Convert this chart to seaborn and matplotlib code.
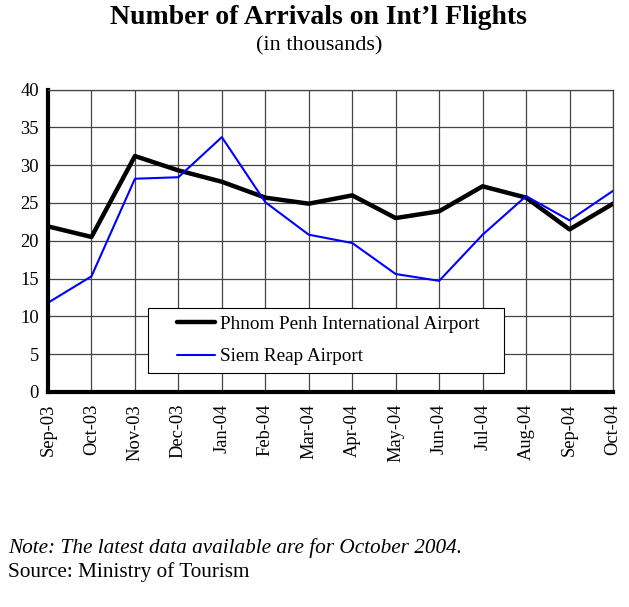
import matplotlib
matplotlib.use("Agg")
import matplotlib.pyplot as plt
from matplotlib.patches import Rectangle
import seaborn as sns
import pandas as pd

months = ["Sep-03", "Oct-03", "Nov-03", "Dec-03", "Jan-04", "Feb-04", "Mar-04",
          "Apr-04", "May-04", "Jun-04", "Jul-04", "Aug-04", "Sep-04", "Oct-04"]
phnom_penh = [21.9, 20.5, 31.2, 29.3, 27.8, 25.7, 24.9, 26.0, 23.0, 23.9, 27.2, 25.7, 21.5, 24.9]
siem_reap = [11.8, 15.3, 28.2, 28.4, 33.7, 25.1, 20.8, 19.7, 15.6, 14.7, 20.8, 25.9, 22.7, 26.6]
series_names = ["Phnom Penh International Airport", "Siem Reap Airport"]
y_ticks = [0, 5, 10, 15, 20, 25, 30, 35, 40]

sns.set_style("white")
plt.rcParams["font.family"] = ["Liberation Serif", "DejaVu Serif"]
plt.rcParams["text.color"] = "black"
plt.rcParams["xtick.color"] = "black"
plt.rcParams["ytick.color"] = "black"

df = pd.DataFrame({
    "month": months * 2,
    "idx": list(range(len(months))) * 2,
    "value": phnom_penh + siem_reap,
    "series": [series_names[0]] * len(months) + [series_names[1]] * len(months),
})

W, H = 629, 607
fig = plt.figure(figsize=(W / 100, H / 100), dpi=100)
ax = fig.add_axes([48 / W, 1 - 392 / H, (613 - 48) / W, (392 - 89.5) / H])

sns.lineplot(data=df[df.series == series_names[0]], x="idx", y="value",
             color="black", linewidth=3.2, ax=ax, label=series_names[0])
sns.lineplot(data=df[df.series == series_names[1]], x="idx", y="value",
             color="#0000FF", linewidth=1.5, ax=ax, label=series_names[1])

ax.set_xlim(0, len(months) - 1)
ax.set_ylim(0, 40)
ax.set_xticks(range(len(months)))
ax.set_xticklabels(months, rotation=90, fontsize=13.3)
ax.set_yticks(y_ticks)
ax.set_yticklabels([str(v) for v in y_ticks], fontsize=13.3)
ax.set_xlabel("")
ax.set_ylabel("")

ax.grid(True, color="#444444", linewidth=0.9)
ax.set_axisbelow(True)
for s in ["top", "right"]:
    ax.spines[s].set_color("#444444")
    ax.spines[s].set_linewidth(0.9)
for s in ["left", "bottom"]:
    ax.spines[s].set_color("black")
    ax.spines[s].set_linewidth(3)
ax.tick_params(axis="both", direction="inout", length=7, width=2, color="black",
               labelcolor="black", pad=3)
ax.tick_params(axis="x", pad=5)

# legend frame (white box) and legend
ax.add_patch(Rectangle((148 / W, 1 - 373 / H), (504 - 148) / W, (373 - 308) / H,
                       transform=fig.transFigure, facecolor="white", edgecolor="black",
                       linewidth=0.8, zorder=4, clip_on=False))
leg = ax.legend(loc="center left", bbox_to_anchor=((177 - 48) / 565, (392 - 340.5) / 302.5),
                fontsize=13.8, frameon=False, handlelength=2.0, borderpad=0,
                labelspacing=0.78, handletextpad=0.25, borderaxespad=0)
leg.set_zorder(5)

fig.text(0.507, 1 - 18 / H, "Number of Arrivals on Int’l Flights", ha="center", va="center",
         fontsize=20, fontweight="bold")
fig.text(0.507, 1 - 46 / H, "(in thousands)", ha="center", va="center", fontsize=16)
fig.text(8 / W, 1 - 548 / H, "Note: The latest data available are for October 2004.",
         ha="left", va="center", fontsize=15.3, style="italic")
fig.text(8 / W, 1 - 572 / H, "Source: Ministry of Tourism", ha="left", va="center", fontsize=15.3)

fig.savefig("out.png", dpi=100)
